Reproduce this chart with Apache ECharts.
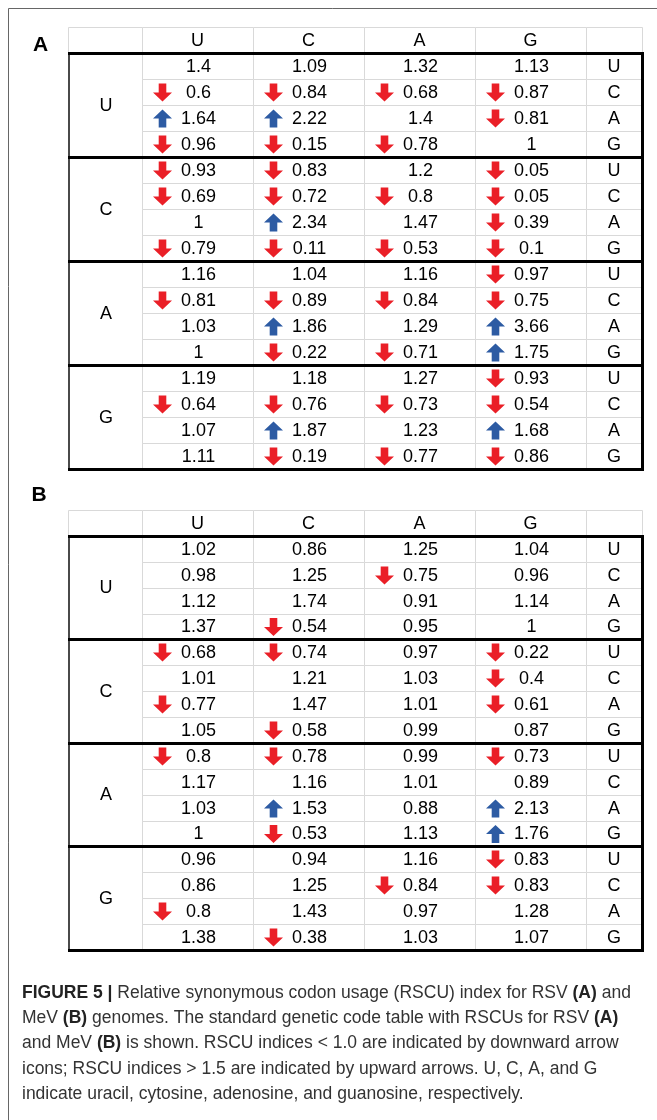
<!DOCTYPE html>
<html><head><meta charset="utf-8">
<script src="https://cdn.jsdelivr.net/npm/echarts@6/dist/echarts.min.js"></script>
<style>html,body{margin:0;padding:0;background:#fff}#c{width:657px;height:1120px}</style>
</head><body><div id="c"></div>
<script>
// ---------------- data ----------------
const secondBases = ['U', 'C', 'A', 'G'];
const firstBases = ['U', 'C', 'A', 'G'];
const thirdBases = ['U', 'C', 'A', 'G'];

// rows: first base (U,C,A,G) x third base (U,C,A,G); columns: second base U,C,A,G
const rscuRSV = [
  [1.4, 1.09, 1.32, 1.13],
  [0.6, 0.84, 0.68, 0.87],
  [1.64, 2.22, 1.4, 0.81],
  [0.96, 0.15, 0.78, 1],
  [0.93, 0.83, 1.2, 0.05],
  [0.69, 0.72, 0.8, 0.05],
  [1, 2.34, 1.47, 0.39],
  [0.79, 0.11, 0.53, 0.1],
  [1.16, 1.04, 1.16, 0.97],
  [0.81, 0.89, 0.84, 0.75],
  [1.03, 1.86, 1.29, 3.66],
  [1, 0.22, 0.71, 1.75],
  [1.19, 1.18, 1.27, 0.93],
  [0.64, 0.76, 0.73, 0.54],
  [1.07, 1.87, 1.23, 1.68],
  [1.11, 0.19, 0.77, 0.86]
];
// d = downward arrow, u = upward arrow, - = none
const arrowsRSV = [
  '----', 'dddd', 'uu-d', 'ddd-',
  'dd-d', 'dddd', '-u-d', 'dddd',
  '---d', 'dddd', '-u-u', '-ddu',
  '---d', 'dddd', '-u-u', '-ddd'
];

const rscuMeV = [
  [1.02, 0.86, 1.25, 1.04],
  [0.98, 1.25, 0.75, 0.96],
  [1.12, 1.74, 0.91, 1.14],
  [1.37, 0.54, 0.95, 1],
  [0.68, 0.74, 0.97, 0.22],
  [1.01, 1.21, 1.03, 0.4],
  [0.77, 1.47, 1.01, 0.61],
  [1.05, 0.58, 0.99, 0.87],
  [0.8, 0.78, 0.99, 0.73],
  [1.17, 1.16, 1.01, 0.89],
  [1.03, 1.53, 0.88, 2.13],
  [1, 0.53, 1.13, 1.76],
  [0.96, 0.94, 1.16, 0.83],
  [0.86, 1.25, 0.84, 0.83],
  [0.8, 1.43, 0.97, 1.28],
  [1.38, 0.38, 1.03, 1.07]
];
const arrowsMeV = [
  '----', '--d-', '----', '-d--',
  'dd-d', '---d', 'd--d', '-d--',
  'dd-d', '----', '-u-u', '-d-u',
  '---d', '--dd', 'd---', '-d--'
];

const panelLabels = ['A', 'B'];

const captionLines = [
  [['b', 'FIGURE 5 | '], ['n', 'Relative synonymous codon usage (RSCU) index for RSV '], ['b', '(A)'], ['n', ' and']],
  [['n', 'MeV '], ['b', '(B)'], ['n', ' genomes. The standard genetic code table with RSCUs for RSV '], ['b', '(A)']],
  [['n', 'and MeV '], ['b', '(B)'], ['n', ' is shown. RSCU indices < 1.0 are indicated by downward arrow']],
  [['n', 'icons; RSCU indices > 1.5 are indicated by upward arrows. U, C, A, and G']],
  [['n', 'indicate uracil, cytosine, adenosine, and guanosine, respectively.']]
];

// ---------------- layout / style ----------------
const FONT = '"Liberation Sans", Arial, Helvetica, sans-serif';
const FIRST_W = 2 / 3, LAST_W = 0.5;
const GRID_TOPS = [27, 510];
const GRID_HEIGHTS = [442, 440];
const RED = '#ea1f27', BLUE = '#2d5ba3', GRID_GREY = '#d9d9d9';
const DOWN_PATH = 'M6,0 L14,0 L14,9 L20,9 L10,18 L0,9 L6,9 Z';
const UP_PATH = 'M10,0 L20,9 L14,9 L14,18 L6,18 L6,9 L0,9 Z';

function box(api, x0, y0, x1, y1) {
  const a = api.coord([x0, y0]), b = api.coord([x1, y1]);
  return { x0: Math.round(a[0]), y0: Math.round(a[1]), x1: Math.round(b[0]), y1: Math.round(b[1]) };
}
function cellRect(b) {
  return { type: 'rect', shape: { x: b.x0 + 0.5, y: b.y0 + 0.5, width: b.x1 - b.x0, height: b.y1 - b.y0 },
    style: { fill: '#fff', stroke: GRID_GREY, lineWidth: 1 } };
}
function cellText(txt, cx, cy, size) {
  return { type: 'text', x: cx, y: cy,
    style: { text: txt, fill: '#000', fontSize: size || 18, fontFamily: FONT,
      align: 'center', verticalAlign: 'middle', textAlign: 'center', textVerticalAlign: 'middle' } };
}
function hLine(x0, x1, y, w, color) {
  return { type: 'line', shape: { x1: x0, y1: y, x2: x1, y2: y }, style: { stroke: color, lineWidth: w } };
}
function vLine(x, y0, y1, w, color) {
  return { type: 'line', shape: { x1: x, y1: y0, x2: x, y2: y1 }, style: { stroke: color, lineWidth: w } };
}
function headerSpan(i) {
  if (i === 0) return [-FIRST_W, 0];
  if (i === 5) return [4, 4 + LAST_W];
  return [i - 1, i];
}

const grids = [], xAxes = [], yAxes = [], series = [];
const tables = [
  { values: rscuRSV, arrows: arrowsRSV },
  { values: rscuMeV, arrows: arrowsMeV }
];

tables.forEach((tb, t) => {
  grids.push({ left: 68, top: GRID_TOPS[t], width: 574, height: GRID_HEIGHTS[t] });
  xAxes.push({ gridIndex: t, type: 'value', min: -FIRST_W, max: 4 + LAST_W, show: false });
  yAxes.push({ gridIndex: t, type: 'value', min: 0, max: 17, inverse: true, show: false });
  const common = { type: 'custom', coordinateSystem: 'cartesian2d', xAxisIndex: t, yAxisIndex: t,
    clip: false, silent: true, animation: false };

  // header row
  const headerLabels = [''].concat(secondBases, ['']);
  series.push(Object.assign({}, common, {
    data: headerLabels.map((s, i) => [i, 0]),
    renderItem: (params, api) => {
      const i = api.value(0);
      const sp = headerSpan(i);
      const b = box(api, sp[0], 0, sp[1], 1);
      return { type: 'group', children: [cellRect(b), cellText(headerLabels[i], (b.x0 + b.x1) / 2, (b.y0 + b.y1) / 2 + 1)] };
    }
  }));

  // first base (merged cells)
  series.push(Object.assign({}, common, {
    data: firstBases.map((s, g) => [g, 1 + 4 * g]),
    renderItem: (params, api) => {
      const g = api.value(0);
      const b = box(api, -FIRST_W, 1 + 4 * g, 0, 5 + 4 * g);
      return { type: 'group', children: [cellRect(b), cellText(firstBases[g], (b.x0 + b.x1) / 2 + 1, (b.y0 + b.y1) / 2 + 1)] };
    }
  }));

  // third base
  series.push(Object.assign({}, common, {
    data: tb.values.map((row, r) => [4, r + 1]),
    renderItem: (params, api) => {
      const r = api.value(1);
      const b = box(api, 4, r, 4 + LAST_W, r + 1);
      return { type: 'group', children: [cellRect(b), cellText(thirdBases[(r - 1) % 4], (b.x0 + b.x1) / 2, (b.y0 + b.y1) / 2 + 1)] };
    }
  }));

  // RSCU cells with arrows
  const cellData = [];
  tb.values.forEach((row, r) => row.forEach((v, c) => {
    const a = tb.arrows[r][c];
    cellData.push([c, r + 1, v, a === 'd' ? -1 : (a === 'u' ? 1 : 0)]);
  }));
  series.push(Object.assign({}, common, {
    data: cellData,
    renderItem: (params, api) => {
      const c = api.value(0), r = api.value(1), v = api.value(2), a = api.value(3);
      const b = box(api, c, r, c + 1, r + 1);
      const cy = (b.y0 + b.y1) / 2;
      const kids = [cellRect(b), cellText(String(v), (b.x0 + b.x1) / 2 + 1, cy + 1)];
      if (a !== 0) {
        kids.push({ type: 'path',
          shape: { pathData: a < 0 ? DOWN_PATH : UP_PATH, x: b.x0 + 11, y: cy - 8.5, width: 19, height: 18, layout: 'cover' },
          style: { fill: a < 0 ? RED : BLUE } });
      }
      return { type: 'group', children: kids };
    }
  }));

  // thick frame of codon-family blocks
  series.push(Object.assign({}, common, {
    z: 5,
    data: firstBases.map((s, g) => [g, 1 + 4 * g]),
    renderItem: (params, api) => {
      const g = api.value(0);
      const b = box(api, -FIRST_W, 1 + 4 * g, 4 + LAST_W, 5 + 4 * g);
      return { type: 'group', children: [
        vLine(b.x0 + 1, b.y0, b.y1, 2, '#4a4a4a'),
        vLine(b.x1 + 0.5, b.y0 - 1, b.y1 + 1, 3, '#000'),
        hLine(b.x0, b.x1 + 2, b.y0 + 0.5, 3, '#000'),
        hLine(b.x0, b.x1 + 2, b.y1 + 0.5, 3, '#000')
      ] };
    }
  }));
});

// ---------------- caption fitting ----------------
const ctx = document.createElement('canvas').getContext('2d');
function lineWidth(parts, fs) {
  let w = 0;
  parts.forEach(p => { ctx.font = (p[0] === 'b' ? 'bold ' : '') + fs + 'px ' + FONT; w += ctx.measureText(p[1]).width; });
  return w;
}
const capFs = Math.min(17.5, 16 * 629 / lineWidth(captionLines[0], 16));
const CAP_Y0 = 993, CAP_DY = 25.3;

const graphic = [
  { type: 'polyline', shape: { points: [[8.5, 1120], [8.5, 8.5], [657, 8.5]] }, style: { stroke: '#666', lineWidth: 1, fill: null } }
];
[[40.5, 45], [39, 495]].forEach((p, i) => graphic.push({
  type: 'text', x: p[0], y: p[1],
  style: { text: panelLabels[i], fill: '#000', fontSize: 21, fontWeight: 'bold', fontFamily: FONT, align: 'center', verticalAlign: 'middle' }
}));
captionLines.forEach((parts, i) => {
  const txt = parts.map(p => '{' + p[0] + '|' + p[1].replace(/[{}]/g, '') + '}').join('');
  graphic.push({
    type: 'text', x: 22, y: CAP_Y0 + i * CAP_DY,
    style: {
      text: txt, align: 'left', verticalAlign: 'middle',
      rich: {
        b: { fontWeight: 'bold', fontSize: capFs, fontFamily: FONT, fill: '#222' },
        n: { fontWeight: 'normal', fontSize: capFs, fontFamily: FONT, fill: '#333' }
      }
    }
  });
});

const chart = echarts.init(document.getElementById('c'));
chart.setOption({
  animation: false,
  backgroundColor: '#fff',
  grid: grids, xAxis: xAxes, yAxis: yAxes,
  series: series,
  graphic: graphic
});
</script>
</body></html>
